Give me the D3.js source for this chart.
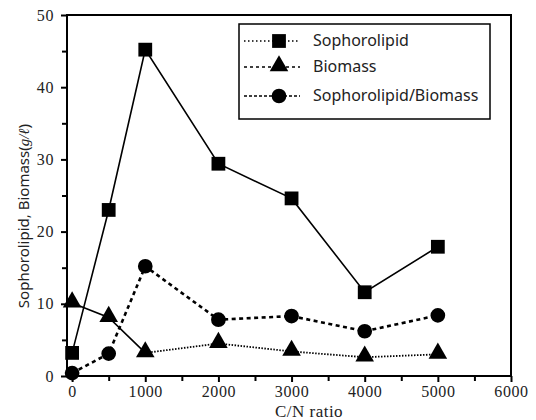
<!DOCTYPE html>
<html><head><meta charset="utf-8">
<script src="https://cdn.jsdelivr.net/npm/d3@7"></script>
<style>body{margin:0;background:#fff}svg{display:block}</style>
</head><body>
<svg id="c" width="536" height="420"></svg>
<script>
const cnRatio = [0, 500, 1000, 2000, 3000, 4000, 5000];
const sophorolipid = [3.2, 23.0, 45.2, 29.4, 24.6, 11.6, 17.9];
const biomass = [10.1, 8.1, 3.2, 4.5, 3.4, 2.6, 3.0];
const ratio = [0.4, 3.1, 15.2, 7.8, 8.3, 6.2, 8.4];
const xTicks = [0, 1000, 2000, 3000, 4000, 5000, 6000];
const yTicks = [0, 10, 20, 30, 40, 50];
const seriesNames = ["Sophorolipid", "Biomass", "Sophorolipid/Biomass"];

const svg = d3.select("#c");
const x = d3.scaleLinear().domain([-70, 6000]).range([67, 511]);
const y = d3.scaleLinear().domain([0, 50]).range([376, 15]);
const font = "'Liberation Serif', 'DejaVu Serif', serif";
const sans = "'Noto Sans', 'DejaVu Sans', sans-serif";

// frame
svg.append("rect").attr("x", x(-70)).attr("y", y(50)).attr("width", x(6000) - x(-70))
  .attr("height", y(0) - y(50)).attr("fill", "none").attr("stroke", "#000").attr("stroke-width", 2);

// axes
const xAxis = d3.axisBottom(x).tickValues(xTicks).tickSize(6).tickFormat(d3.format("d"));
const gx = svg.append("g").attr("transform", `translate(0,${y(0)})`).call(xAxis);
gx.select(".domain").remove();
gx.selectAll("line").attr("stroke-width", 2);
gx.selectAll("text").attr("font-family", font).attr("font-size", 16).attr("letter-spacing", 0.6)
  .attr("fill", "#222").attr("y", 21).attr("dy", 0);
const gxm = svg.append("g").attr("transform", `translate(0,${y(0)})`)
  .call(d3.axisBottom(x).tickValues(d3.range(500, 6000, 1000)).tickSize(5).tickFormat(""));
gxm.select(".domain").remove();
gxm.selectAll("line").attr("stroke-width", 2);

const yAxis = d3.axisLeft(y).tickValues(yTicks).tickSize(6);
const gy = svg.append("g").attr("transform", `translate(${x(-70)},0)`).call(yAxis);
gy.select(".domain").remove();
gy.selectAll("line").attr("stroke-width", 2);
gy.selectAll("text").attr("font-family", font).attr("font-size", 16).attr("letter-spacing", 0.6)
  .attr("fill", "#222").attr("x", -13);
const gym = svg.append("g").attr("transform", `translate(${x(-70)},0)`)
  .call(d3.axisLeft(y).tickValues(d3.range(5, 50, 10)).tickSize(5).tickFormat(""));
gym.select(".domain").remove();
gym.selectAll("line").attr("stroke-width", 2);

// axis labels
svg.append("text").attr("x", 309).attr("y", 417).attr("text-anchor", "middle")
  .attr("font-family", font).attr("font-size", 17).attr("letter-spacing", 0.5).attr("fill", "#222").text("C/N ratio");
const yl = svg.append("text").attr("transform", `translate(29,216) rotate(-90)`)
  .attr("text-anchor", "middle").attr("font-family", sans)
  .attr("font-size", 15).attr("fill", "#222");
yl.append("tspan").text("Sophorolipid, Biomass(");
yl.append("tspan").attr("font-style", "italic").attr("font-family", font).text("g/ℓ");
yl.append("tspan").text(")");

const pts = arr => cnRatio.map((c, i) => [c, arr[i]]);
const line = d3.line().x(d => x(d[0])).y(d => y(d[1]));

// lines
svg.append("path").attr("d", line(pts(sophorolipid))).attr("fill", "none").attr("stroke", "#000").attr("stroke-width", 1.6);
const bioPts = pts(biomass);
svg.append("path").attr("d", line(bioPts.filter(d => d[0] <= 1000))).attr("fill", "none").attr("stroke", "#000").attr("stroke-width", 1.6);
svg.append("path").attr("d", line(bioPts.filter(d => d[0] >= 1000))).attr("fill", "none").attr("stroke", "#000").attr("stroke-width", 1.8).attr("stroke-dasharray", "1.5,1.5");
svg.append("path").attr("d", line(pts(ratio))).attr("fill", "none").attr("stroke", "#000").attr("stroke-width", 2.6).attr("stroke-dasharray", "4,3.5");

// markers
const sq = d3.symbol().type(d3.symbolSquare).size(190);
const tri = d3.symbol().type(d3.symbolTriangle).size(150);
const cir = d3.symbol().type(d3.symbolCircle).size(170);
svg.selectAll(".sq").data(pts(sophorolipid)).join("path").attr("d", sq)
  .attr("transform", d => `translate(${x(d[0])},${y(d[1])})`).attr("fill", "#000");
svg.selectAll(".tr").data(bioPts).join("path").attr("d", tri)
  .attr("transform", d => `translate(${x(d[0])},${y(d[1]) - 1})`).attr("fill", "#000");
svg.selectAll(".ci").data(pts(ratio)).join("path").attr("d", cir)
  .attr("transform", d => `translate(${x(d[0])},${y(d[1])})`).attr("fill", "#000");

// legend
const lg = svg.append("g");
lg.append("rect").attr("x", 239).attr("y", 24).attr("width", 251).attr("height", 95)
  .attr("fill", "#fff").attr("stroke", "#000").attr("stroke-width", 1.5);
const legRows = [41, 67, 96];
const legSyms = [sq, tri, cir];
const legDash = ["1.5,2.5", "3,3", "3,2"];
seriesNames.forEach((n, i) => {
  lg.append("line").attr("x1", 244).attr("x2", 300).attr("y1", legRows[i]).attr("y2", legRows[i])
    .attr("stroke", "#000").attr("stroke-width", 1.6).attr("stroke-dasharray", legDash[i]);
  lg.append("path").attr("d", legSyms[i]).attr("transform", `translate(279,${legRows[i] - (i === 1 ? 1 : 0)})`).attr("fill", "#000");
  lg.append("text").attr("x", 313).attr("y", legRows[i] + 5).attr("font-family", sans)
    .attr("font-size", 16).attr("textLength", null).attr("fill", "#222").text(n);
});
</script>
</body></html>
